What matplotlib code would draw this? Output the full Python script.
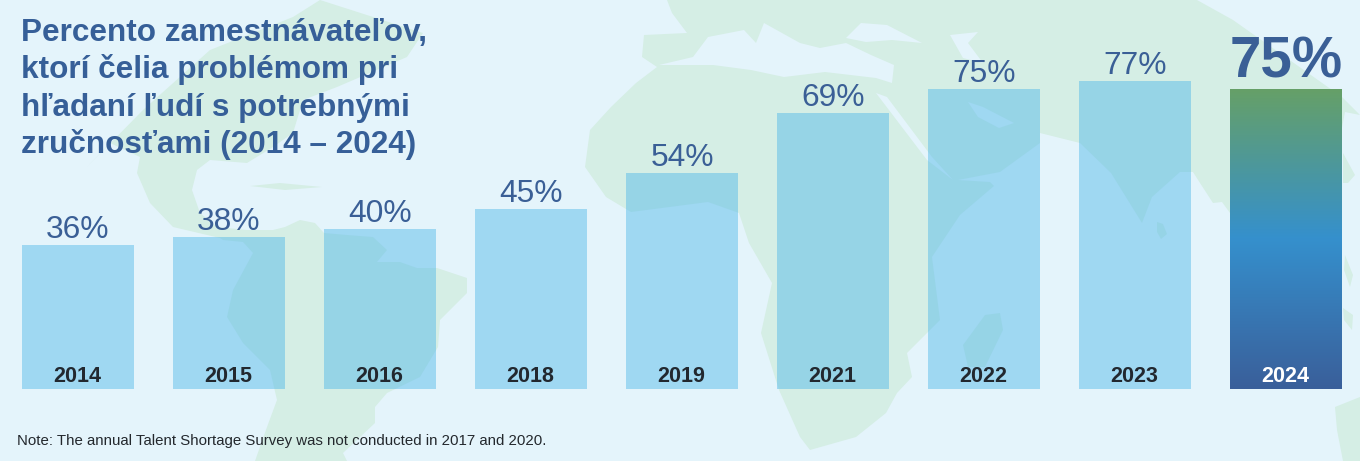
import numpy as np
import matplotlib
matplotlib.use("Agg")
import matplotlib.pyplot as plt
from matplotlib.colors import LinearSegmentedColormap
from matplotlib.patches import Polygon

plt.rcParams['font.family'] = ['Liberation Sans', 'DejaVu Sans']

# Chart data
years = ['2014', '2015', '2016', '2018', '2019', '2021', '2022', '2023', '2024']
values = [36, 38, 40, 45, 54, 69, 75, 77, 75]

title_lines = ['Percento zamestnávateľov,', 'ktorí čelia problémom pri', 'hľadaní ľudí s potrebnými',
               'zručnosťami (2014 – 2024)']
note = 'Note: The annual Talent Shortage Survey was not conducted in 2017 and 2020.'

# Colors
bg_color = '#e4f4fb'
map_color = '#d5eee5'
bar_color = '#4bb6e9'
text_color = '#3a5f96'
title_color = '#365f98'
year_color = '#22282f'

# Background world map, traced in image pixels
americas = [(285, 227), (300, 220), (315, 223), (324, 233), (347, 235), (373, 237), (387, 250), (377, 262),
            (400, 262), (417, 268), (437, 268), (467, 278), (467, 293), (440, 320), (438, 347), (420, 377),
            (387, 393), (375, 407), (375, 423), (343, 453), (347, 461), (255, 461), (267, 427), (277, 400),
            (270, 370), (243, 343), (227, 317), (233, 290), (253, 253), (243, 242), (223, 240), (220, 238),
            (173, 227), (150, 203), (137, 173), (140, 157), (110, 143), (87, 167), (143, 110), (210, 50),
            (293, 17), (320, 0), (345, 8), (423, 33), (407, 57), (337, 87), (303, 100), (293, 133), (273, 147),
            (247, 163), (210, 160), (197, 170), (192, 190), (200, 213), (217, 227), (247, 230), (273, 230)]
eurasia_africa = [(642, 57), (644, 35), (687, 33), (672, 13), (667, 0), (1197, 0), (1233, 20), (1342, 97),
                  (1360, 115), (1345, 112), (1330, 190), (1230, 213), (1222, 202), (1213, 203), (1200, 183),
                  (1193, 172), (1180, 172), (1152, 197), (1142, 223), (1111, 173), (1080, 143), (1040, 133),
                  (1040, 143), (1000, 172), (958, 180), (990, 182), (994, 186), (960, 215), (932, 257),
                  (940, 320), (917, 343), (907, 353), (912, 377), (897, 393), (886, 413), (856, 437), (810, 450),
                  (800, 437), (779, 390), (761, 333), (772, 283), (749, 243), (739, 213), (708, 202), (662, 208),
                  (631, 212), (606, 197), (585, 167), (590, 130), (611, 107), (636, 83), (657, 67)]
land_bits = [
    [(963, 345), (985, 315), (1000, 313), (1003, 330), (985, 367), (968, 367)],  # Madagascar
    [(1157, 222), (1163, 224), (1167, 234), (1161, 239), (1157, 232)],  # Sri Lanka
    [(1343, 153), (1355, 175), (1348, 183), (1343, 183)],  # Korea
    [(1345, 255), (1353, 275), (1350, 287), (1344, 270)],  # Philippines
    [(1343, 308), (1353, 315), (1352, 330), (1344, 320)],
    [(1335, 407), (1360, 397), (1360, 461), (1343, 461), (1337, 430)],  # Australia
    [(250, 186), (280, 183), (322, 187), (285, 190)],  # Cuba
]
seas = [
    [(659, 65), (693, 57), (708, 37), (744, 30), (756, 43), (764, 23), (800, 43), (820, 48), (846, 43), (871, 55),
     (894, 65), (892, 83), (876, 78), (825, 72), (784, 77), (751, 70), (713, 65)],  # Mediterranean
    [(846, 38), (861, 23), (887, 25), (922, 43), (892, 40), (866, 42)],  # Black Sea
    [(950, 35), (978, 32), (968, 43), (983, 63), (963, 58)],  # Caspian
    [(968, 102), (983, 107), (1014, 123), (999, 128), (978, 117)],  # Persian Gulf
    [(876, 93), (887, 97), (932, 157), (953, 180), (927, 160)],  # Red Sea
]

fig = plt.figure(figsize=(13.6, 4.61), dpi=100, facecolor=bg_color)

# Map layer in pixel coordinates
map_ax = fig.add_axes([0, 0, 1, 1], zorder=0)
map_ax.set_xlim(0, 1360)
map_ax.set_ylim(461, 0)
map_ax.axis('off')
for shape in [americas, eurasia_africa] + land_bits:
    map_ax.add_patch(Polygon(shape, closed=True, fc=map_color, ec='none'))
for shape in seas:
    map_ax.add_patch(Polygon(shape, closed=True, fc=bg_color, ec='none'))

# Bars: 151 px per category, 4 px per percent, baseline at y=389
ax = fig.add_axes([0, 0, 1, 1], zorder=1)
ax.patch.set_alpha(0)
ax.axis('off')
x = np.arange(len(years))
width = 112 / 151

bars = ax.bar(x[:-1], values[:-1], width=width, color=bar_color, alpha=0.45, linewidth=0)

# Last bar gets the gradient
grad_bar = ax.bar(x[-1], values[-1], width=width, facecolor='none', edgecolor='none')[0]
grad_cmap = LinearSegmentedColormap.from_list('grad', [(0, '#3a5f9a'), (0.5, '#3590cd'), (1, '#66a067')])
im = ax.imshow(np.linspace(1, 0, 256).reshape(-1, 1), cmap=grad_cmap, vmin=0, vmax=1, aspect='auto',
               extent=[x[-1] - width / 2, x[-1] + width / 2, 0, values[-1]], zorder=2)
im.set_clip_path(grad_bar)

ax.set_xlim(-78 / 151, (1360 - 78) / 151)
ax.set_ylim(-72 / 4, 389 / 4)

# Labels
for i, (year, value) in enumerate(zip(years, values)):
    last = i == len(years) - 1
    if last:
        ax.text(i, value + 2.75, f'{value}%', ha='center', va='baseline', fontsize=40.7,
                fontweight='bold', color=text_color, zorder=3)
    else:
        ax.text(i, value + 1.75, f'{value}%', ha='center', va='baseline', fontsize=22.9,
                color=text_color, zorder=3)
    ax.text(i - 0.006, 1.75, year, ha='center', va='baseline', fontsize=15.5, fontweight='bold',
            color='white' if last else year_color, zorder=3)

for n, line in enumerate(title_lines):
    fig.text(21 / 1360, 1 - (41 + 37.4 * n) / 461, line, ha='left', va='baseline', fontsize=22.7,
             fontweight='bold', color=title_color, zorder=5)
fig.text(17 / 1360, 1 - 445 / 461, note, ha='left', va='baseline', fontsize=10.8, color='#23282d', zorder=5)

fig.savefig('out.png', dpi=100, facecolor=bg_color)
